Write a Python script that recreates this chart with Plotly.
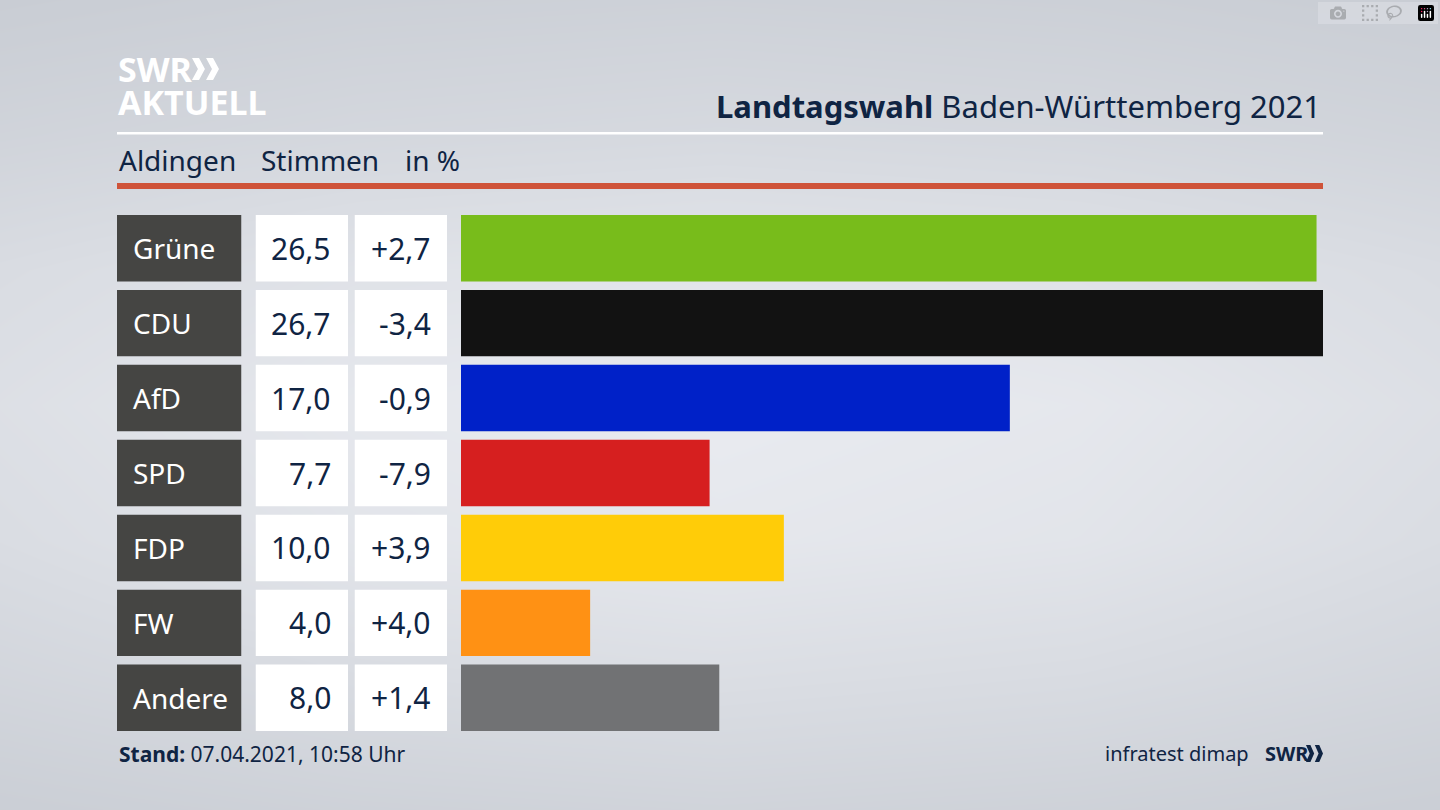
import plotly.graph_objects as go

parties = ["Grüne", "CDU", "AfD", "SPD", "FDP", "FW", "Andere"]
votes = [26.5, 26.7, 17.0, 7.7, 10.0, 4.0, 8.0]
vote_labels = ["26,5", "26,7", "17,0", "7,7", "10,0", "4,0", "8,0"]
change_labels = ["+2,7", "-3,4", "-0,9", "-7,9", "+3,9", "+4,0", "+1,4"]
colors = ["#78bc1b", "#121212", "#0021c8", "#d61f1f", "#ffcc08", "#ff9114", "#717274"]

bg_x = [0, 360, 720, 1080, 1440]
bg_y = [0, 135, 270, 405, 540, 675, 810]
bg_z = [
    [0.00, 0.10, 0.14, 0.10, 0.00],
    [0.22, 0.34, 0.40, 0.34, 0.22],
    [0.50, 0.70, 0.78, 0.70, 0.50],
    [0.62, 0.88, 1.00, 0.88, 0.62],
    [0.52, 0.78, 0.88, 0.78, 0.52],
    [0.30, 0.48, 0.56, 0.48, 0.30],
    [0.05, 0.16, 0.22, 0.16, 0.05],
]

W, H = 1440, 810
NAVY = "#0f2443"
FONT = "Noto Sans"


def px(x):
    return x / W


def py(y):
    return 1 - y / H


fig = go.Figure()
fig.add_trace(go.Heatmap(x=bg_x, y=bg_y, z=bg_z, zsmooth="best", showscale=False,
                         colorscale=[[0, "#c9cdd4"], [1, "#e9ebf0"]], hoverinfo="skip",
                         xaxis="x", yaxis="y"))

BW = 66.5 / 75
for xa, vals, cols in [
    ("x2", [1] * 7, ["#454543"] * 7),
    ("x3", [1] * 7, ["#ffffff"] * 7),
    ("x4", [1] * 7, ["#ffffff"] * 7),
    ("x5", votes, colors),
]:
    fig.add_trace(go.Bar(x=vals, y=parties, orientation="h", width=BW, marker=dict(color=cols, line_width=0),
                         xaxis=xa, yaxis="y2", showlegend=False, hoverinfo="skip"))

annots = []


def text(x, y, s, size, color=NAVY, anchor="left", yref="paper", family=FONT):
    annots.append(dict(x=x, y=y, text=s, xref="paper", yref=yref, showarrow=False, xanchor=anchor,
                       yanchor="middle", font=dict(family=family, size=size, color=color)))


for p, v, c in zip(parties, vote_labels, change_labels):
    text(px(131), p, p, 28, "#ffffff", yref="y2")
    text(px(333), v, v, 30, NAVY, "right", yref="y2") if False else None
for p, v, c in zip(parties, vote_labels, change_labels):
    annots.append(dict(x=px(333), y=p, text=v, xref="paper", yref="y2", showarrow=False, xanchor="right",
                       yanchor="middle", font=dict(family=FONT, size=30, color=NAVY)))
    annots.append(dict(x=px(433), y=p, text=c, xref="paper", yref="y2", showarrow=False, xanchor="right",
                       yanchor="middle", font=dict(family=FONT, size=30, color=NAVY)))

text(px(1323), py(106), "<b>Landtagswahl</b> Baden-Württemberg 2021", 31, NAVY, "right")
text(px(117), py(160), "Aldingen", 28)
text(px(259), py(160), "Stimmen", 28)
text(px(403), py(160), "in %", 28)
text(px(117), py(754), "<b>Stand:</b> 07.04.2021, 10:58 Uhr", 21)
text(px(1251), py(753), "infratest dimap", 20, NAVY, "right")
text(px(1263), py(753), "<b>SWR</b>", 20)
text(px(116), py(69), "<b>SWR</b>", 34, "#ffffff")
text(px(116), py(102), "<b>AKTUELL</b>", 34, "#ffffff")


def chevrons(x0, y0, h, w, color):
    out = []
    for k in (0, 1):
        ox = x0 + k * w * 0.52
        pts = [(ox, y0), (ox + w * 0.26, y0), (ox + w * 0.48, y0 + h / 2), (ox + w * 0.26, y0 + h),
               (ox, y0 + h), (ox + w * 0.22, y0 + h / 2)]
        path = "M " + " L ".join(f"{px(a):.5f},{py(b):.5f}" for a, b in pts) + " Z"
        out.append(dict(type="path", path=path, xref="paper", yref="paper", fillcolor=color, line_width=0))
    return out


shapes = [
    dict(type="rect", x0=px(117), x1=px(1323), y0=py(132), y1=py(134.5), xref="paper", yref="paper",
         fillcolor="#ffffff", line_width=0),
    dict(type="rect", x0=px(117), x1=px(1323), y0=py(183), y1=py(189), xref="paper", yref="paper",
         fillcolor="#cf5339", line_width=0),
] + chevrons(192, 58, 22, 27, "#ffffff") + chevrons(1306, 745, 17, 17, NAVY)

hidden = dict(visible=False, fixedrange=True)
fig.update_layout(
    width=W, height=H, margin=dict(l=0, r=0, t=0, b=0), showlegend=False,
    paper_bgcolor="#dfe1e7", plot_bgcolor="rgba(0,0,0,0)", annotations=annots, shapes=shapes,
    xaxis=dict(domain=[0, 1], range=[0, 1440], **hidden),
    yaxis=dict(domain=[0, 1], range=[810, 0], **hidden),
    xaxis2=dict(domain=[px(117), px(241.5)], range=[0, 1], anchor="y2", **hidden),
    xaxis3=dict(domain=[px(255.5), px(348)], range=[0, 1], anchor="y2", **hidden),
    xaxis4=dict(domain=[px(354.5), px(447)], range=[0, 1], anchor="y2", **hidden),
    xaxis5=dict(domain=[px(461), px(1323)], range=[0, 26.7], anchor="y2", **hidden),
    yaxis2=dict(domain=[py(731), py(215)], range=[6.443, -0.443], categoryorder="array", categoryarray=parties,
                type="category", anchor="x2", **hidden),
)
fig.write_html("out.html", post_script="document.body.style.margin='0';document.body.style.overflow='hidden';")
